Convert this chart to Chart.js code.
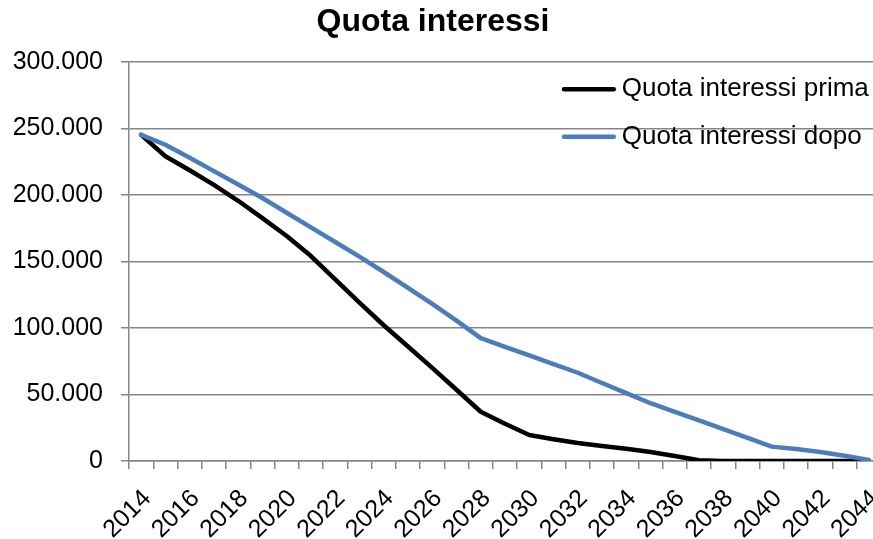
<!DOCTYPE html>
<html lang="it">
<head>
<meta charset="utf-8">
<title>Quota interessi</title>
<script src="https://cdn.jsdelivr.net/npm/chart.js@4.4.1/dist/chart.umd.min.js"></script>
<style>
  html, body { margin: 0; padding: 0; background: #ffffff; overflow: hidden; width: 873px; height: 539px; }
  #wrap { position: relative; width: 873px; height: 539px; overflow: hidden; }
  #chart { position: absolute; left: -15px; top: 0; }
</style>
</head>
<body>
<div id="wrap"><canvas id="chart" width="900" height="539"></canvas></div>
<script>
// Anni del piano di ammortamento
const years = [2014, 2015, 2016, 2017, 2018, 2019, 2020, 2021, 2022, 2023,
               2024, 2025, 2026, 2027, 2028, 2029, 2030, 2031, 2032, 2033,
               2034, 2035, 2036, 2037, 2038, 2039, 2040, 2041, 2042, 2043, 2044];

// Quota interessi annua prima della rinegoziazione
const quotaPrima = [245000, 229000, 218500, 207500, 195500, 182500, 169000, 154000, 136500, 119000,
                    102000, 86000, 70000, 53500, 37000, 28000, 19500, 16300, 13500, 11300,
                    9200, 6800, 3800, 500, 0, 0, 0, 0, 0, 0, 0];

// Quota interessi annua dopo la rinegoziazione
const quotaDopo = [245000, 237600, 227800, 217800, 207800, 197600, 186500, 175500, 164500, 153500,
                   142000, 130000, 118000, 105500, 92300, 85800, 79300, 72800, 66300, 58600,
                   51000, 43400, 37000, 30500, 24000, 17300, 10800, 9000, 6800, 4000, 800];

// Valori delle tacche dell'asse verticale
const yTickValues = [0, 50000, 100000, 150000, 200000, 250000, 300000];

const FONT = '"Liberation Sans", Arial, Helvetica, sans-serif';
const GRID = '#868686';

// Formato italiano: separatore delle migliaia con il punto
function formatIt(v) {
  return String(Math.round(v)).replace(/\B(?=(\d{3})+(?!\d))/g, '.');
}

// Legenda disegnata dentro l'area del grafico, in alto a destra
const inlineLegend = {
  id: 'inlineLegend',
  afterDatasetsDraw(chart) {
    const { ctx, chartArea } = chart;
    const x0 = chartArea.left + 435;
    const x1 = chartArea.left + 484.8;
    const tx = chartArea.left + 492.7;
    const rows = [chartArea.top + 27.5, chartArea.top + 75];
    ctx.save();
    ctx.font = '26px ' + FONT;
    ctx.textAlign = 'left';
    ctx.textBaseline = 'middle';
    chart.data.datasets.forEach((ds, i) => {
      const y = rows[i];
      ctx.strokeStyle = ds.borderColor;
      ctx.lineWidth = ds.borderWidth;
      ctx.lineCap = 'round';
      ctx.beginPath();
      ctx.moveTo(x0, y);
      ctx.lineTo(x1, y);
      ctx.stroke();
      ctx.fillStyle = '#000000';
      ctx.fillText(ds.label, tx, y);
    });
    ctx.restore();
  }
};

new Chart(document.getElementById('chart'), {
  type: 'line',
  data: {
    labels: years.map(String),
    datasets: [
      {
        label: 'Quota interessi prima',
        data: quotaPrima,
        borderColor: '#000000',
        backgroundColor: '#000000',
        borderWidth: 4.5,
        pointRadius: 0,
        tension: 0,
        borderCapStyle: 'round',
        borderJoinStyle: 'round',
        order: 1
      },
      {
        label: 'Quota interessi dopo',
        data: quotaDopo,
        borderColor: '#4a7ebb',
        backgroundColor: '#4a7ebb',
        borderWidth: 4.5,
        pointRadius: 0,
        tension: 0,
        borderCapStyle: 'round',
        borderJoinStyle: 'round',
        order: 0
      }
    ]
  },
  options: {
    responsive: false,
    animation: false,
    devicePixelRatio: 1,
    layout: { padding: { left: 0, right: 4, top: 0, bottom: 0 } },
    plugins: {
      legend: { display: false },
      tooltip: { enabled: false },
      title: {
        display: true,
        text: 'Quota interessi',
        color: '#000000',
        font: { family: FONT, size: 32, weight: 'bold' },
        padding: { top: 3, bottom: 20.3 }
      }
    },
    scales: {
      x: {
        type: 'category',
        offset: true,
        grid: {
          display: true,
          offset: true,
          drawOnChartArea: false,
          drawTicks: true,
          tickLength: 8,
          color: GRID,
          lineWidth: 1.5
        },
        border: { display: true, color: GRID, width: 1.5 },
        ticks: {
          autoSkip: false,
          minRotation: 45,
          maxRotation: 45,
          padding: 15,
          labelOffset: 6,
          color: '#000000',
          font: { family: FONT, size: 25 },
          callback(value, index) {
            const y = years[index];
            return y % 2 === 0 ? String(y) : '';
          }
        },
        afterFit(scale) {
          scale.height = 78;
          scale.paddingLeft = 0;
          scale.paddingRight = 0;
        }
      },
      y: {
        min: 0,
        max: 300000,
        grid: {
          color: GRID,
          lineWidth: 1.5,
          drawTicks: true,
          tickLength: 8
        },
        border: { display: true, color: GRID, width: 1.5 },
        ticks: {
          padding: 18,
          color: '#000000',
          font: { family: FONT, size: 25 },
          callback: (v) => formatIt(v)
        },
        afterBuildTicks(scale) {
          scale.ticks = yTickValues.map(v => ({ value: v }));
        },
        afterFit(scale) {
          scale.width = 144;
        }
      }
    }
  },
  plugins: [inlineLegend]
});
</script>
</body>
</html>
